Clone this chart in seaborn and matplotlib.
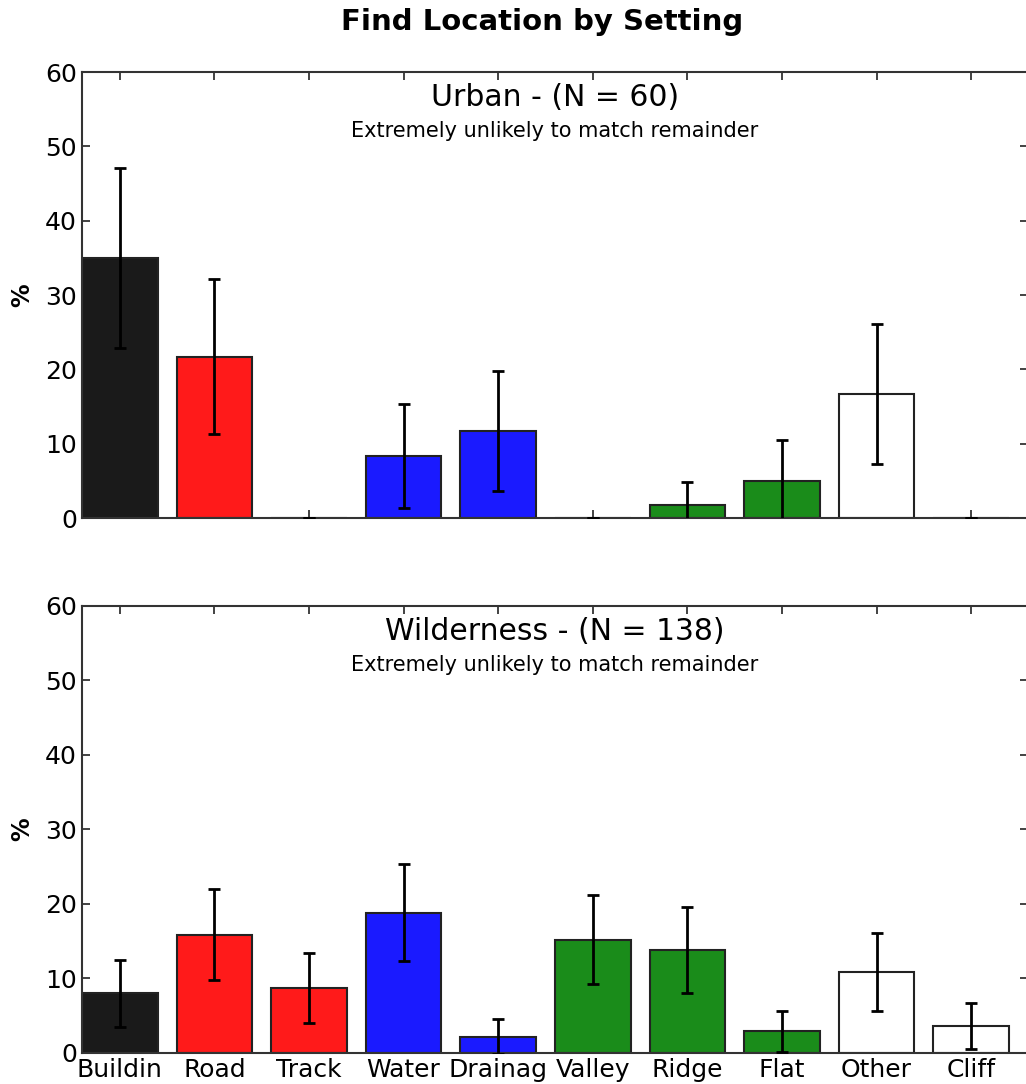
import numpy as np
import pandas as pd
import seaborn as sns
import matplotlib
matplotlib.use("Agg")
import matplotlib.pyplot as plt

# data
locations = ["Buildin", "Road", "Track", "Water", "Drainag",
             "Valley", "Ridge", "Flat", "Other", "Cliff"]
urban_pct = [35.0, 21.7, 0.0, 8.3, 11.7, 0.0, 1.7, 5.0, 16.7, 0.0]
urban_err = [12.1, 10.4, 0.0, 7.0, 8.1, 0.0, 3.2, 5.5, 9.4, 0.0]
wild_pct = [8.0, 15.9, 8.7, 18.8, 2.2, 15.2, 13.8, 2.9, 10.9, 3.6]
wild_err = [4.5, 6.1, 4.7, 6.5, 2.4, 6.0, 5.8, 2.8, 5.2, 3.1]
bar_colors = ["#1a1a1a", "#ff1a1a", "#ff1a1a", "#1a1aff", "#1a1aff",
              "#1a8c1a", "#1a8c1a", "#1a8c1a", "#ffffff", "#ffffff"]

panels = [
    ("Urban - (N = 60)", urban_pct, urban_err),
    ("Wilderness - (N = 138)", wild_pct, wild_err),
]
subtitle = "Extremely unlikely to match remainder"

sns.set_style("ticks")
plt.rcParams["font.family"] = ["DejaVu Sans"]
plt.rcParams["text.color"] = "black"
plt.rcParams["axes.labelcolor"] = "black"
plt.rcParams["xtick.color"] = "black"
plt.rcParams["ytick.color"] = "black"
plt.rcParams["xtick.direction"] = "in"
plt.rcParams["ytick.direction"] = "in"
plt.rcParams["xtick.top"] = True
plt.rcParams["ytick.right"] = True

fig = plt.figure(figsize=(10.26, 10.84), dpi=100)
ax_top = fig.add_axes([0.0799, 0.5221, 0.922, 0.4114])
ax_bot = fig.add_axes([0.0799, 0.0286, 0.922, 0.4124])

palette = dict(zip(locations, bar_colors))

for ax, (name, pct, err) in zip([ax_top, ax_bot], panels):
    df = pd.DataFrame({"location": locations, "pct": pct})
    sns.barplot(data=df, x="location", y="pct", hue="location", palette=palette,
                legend=False, errorbar=None, saturation=1, width=0.8,
                edgecolor="#222222", linewidth=1.5, ax=ax)
    ax.errorbar(np.arange(len(locations)), pct, yerr=err, fmt="none",
                ecolor="black", elinewidth=2, capsize=4, capthick=2, zorder=5)
    ax.set_xlim(-0.4, 9.6)
    ax.set_ylim(0, 60)
    ax.set_yticks(range(0, 61, 10))
    ax.set_xlabel("")
    ax.set_ylabel("%", fontsize=17, fontweight="bold", labelpad=8)
    ax.tick_params(axis="both", labelsize=18, length=6, width=1.2, color="#222222",
                   labelcolor="black")
    for sp in ax.spines.values():
        sp.set_visible(True)
        sp.set_linewidth(1.5)
        sp.set_color("#333333")
    ax.text(0.5, 0.942, name, transform=ax.transAxes, ha="center", va="center",
            fontsize=21.5)
    ax.text(0.5, 0.868, subtitle, transform=ax.transAxes, ha="center", va="center",
            fontsize=15)

ax_top.set_xticklabels([])
ax_bot.set_xticks(range(len(locations)))
ax_bot.set_xticklabels(locations, fontsize=18)

fig.text(0.528, 0.9797, "Find Location by Setting", ha="center", va="center",
         fontsize=21, fontweight="bold")

fig.savefig("out.png", dpi=100)
